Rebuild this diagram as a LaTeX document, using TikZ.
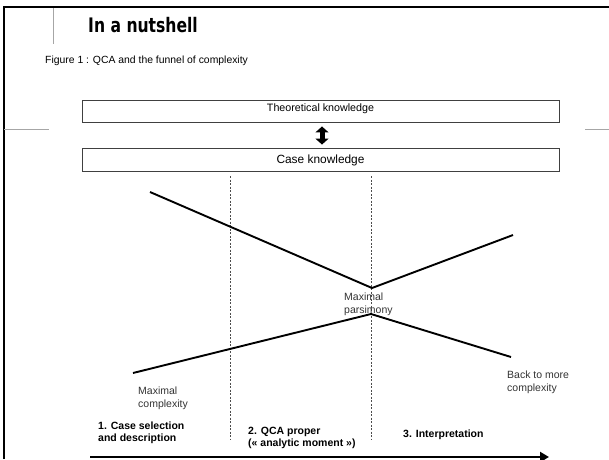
\documentclass[tikz,border=0pt]{standalone}
\usepackage{fontspec}
\setmainfont{Liberation Sans}
\newfontfamily\titlefont{DejaVu Sans}
\usetikzlibrary{arrows.meta}
\tikzset{
  frameline/.style={line width=2.3pt, black},
  guideline/.style={black!35, line width=0.9pt},
  kbox/.style={draw=black!75, line width=0.9pt, minimum width=477pt, inner sep=0pt, anchor=base},
  funnelline/.style={line width=1.9pt, black},
  divider/.style={black!70, line width=0.5pt, dash pattern=on 2pt off 1.5pt},
  lbl/.style={font=\fontsize{10.5}{12.8}\selectfont, text=black!80, align=left, inner sep=0pt, anchor=north west},
  blbl/.style={lbl, font=\fontsize{10.5}{12}\selectfont\bfseries, text=black},
  fatarrow/.style={line width=5pt, {Triangle[width=13pt,length=6pt]}-{Triangle[width=13pt,length=6pt]}},
  timearrow/.style={line width=2.6pt, -{Triangle[width=10pt,length=9pt]}}
}
\begin{document}
\begin{tikzpicture}[x=1pt,y=-1pt]
\useasboundingbox (0,0) rectangle (609,459);
% frame
\draw[frameline] (4,459) -- (4,7) -- (609,7);
\draw[guideline] (53,8) -- (53,44);
\draw[guideline] (4,129) -- (49,129);
\draw[guideline] (585,129) -- (609,129);
% title and caption
\node[anchor=base west, inner sep=0pt] (title) at (88,32)
  {\scalebox{0.78}[1]{\titlefont\bfseries\fontsize{20}{24}\selectfont In a nutshell}};
\node[anchor=base west, inner sep=0pt, font=\fontsize{10.4}{12}\selectfont] (caption) at (45,63.5)
  {Figure 1 : QCA and the funnel of complexity};
% knowledge boxes
\node[kbox, text height=11pt, text depth=11pt, font=\fontsize{10.7}{12}\selectfont] (theo) at (320.5,111) {Theoretical knowledge};
\node[kbox, text height=15.5pt, text depth=7.5pt, font=\fontsize{11.9}{14}\selectfont] (case) at (320.5,163.5) {Case knowledge};
\draw[fatarrow, shorten <=4pt, shorten >=3pt] ([xshift=1.5pt]theo.south) -- ([xshift=1.5pt]case.north);
% phase dividers
\coordinate (d1t) at (230,176);
\coordinate (d1b) at (230,440);
\coordinate (d2t) at (371.5,176);
\coordinate (d2b) at (371.5,440);
\draw[divider] (d1t) -- (d1b);
\draw[divider] (d2t) -- (d2b);
% funnel
\draw[funnelline] (150,192) -- (372,288) -- (513,235);
\draw[funnelline] (133,373) -- (371,314) -- (511,357);
% labels
\node[lbl] (pars) at (344,292.5) {Maximal\\parsimony};
\node[lbl] (maxc) at (138,386.5) {Maximal\\complexity};
\node[lbl] (back) at (507,370.5) {Back to more\\complexity};
\node[blbl] (ph1) at (98,422) {1. Case selection\\and description};
\node[blbl] (ph2) at (248,427) {2. QCA proper\\(« analytic moment »)};
\node[blbl] (ph3) at (403,430) {3. Interpretation};
% time arrow
\coordinate (ts) at (90,457);
\coordinate (te) at (549,457);
\draw[timearrow] (ts) -- (te);
\end{tikzpicture}
\end{document}
